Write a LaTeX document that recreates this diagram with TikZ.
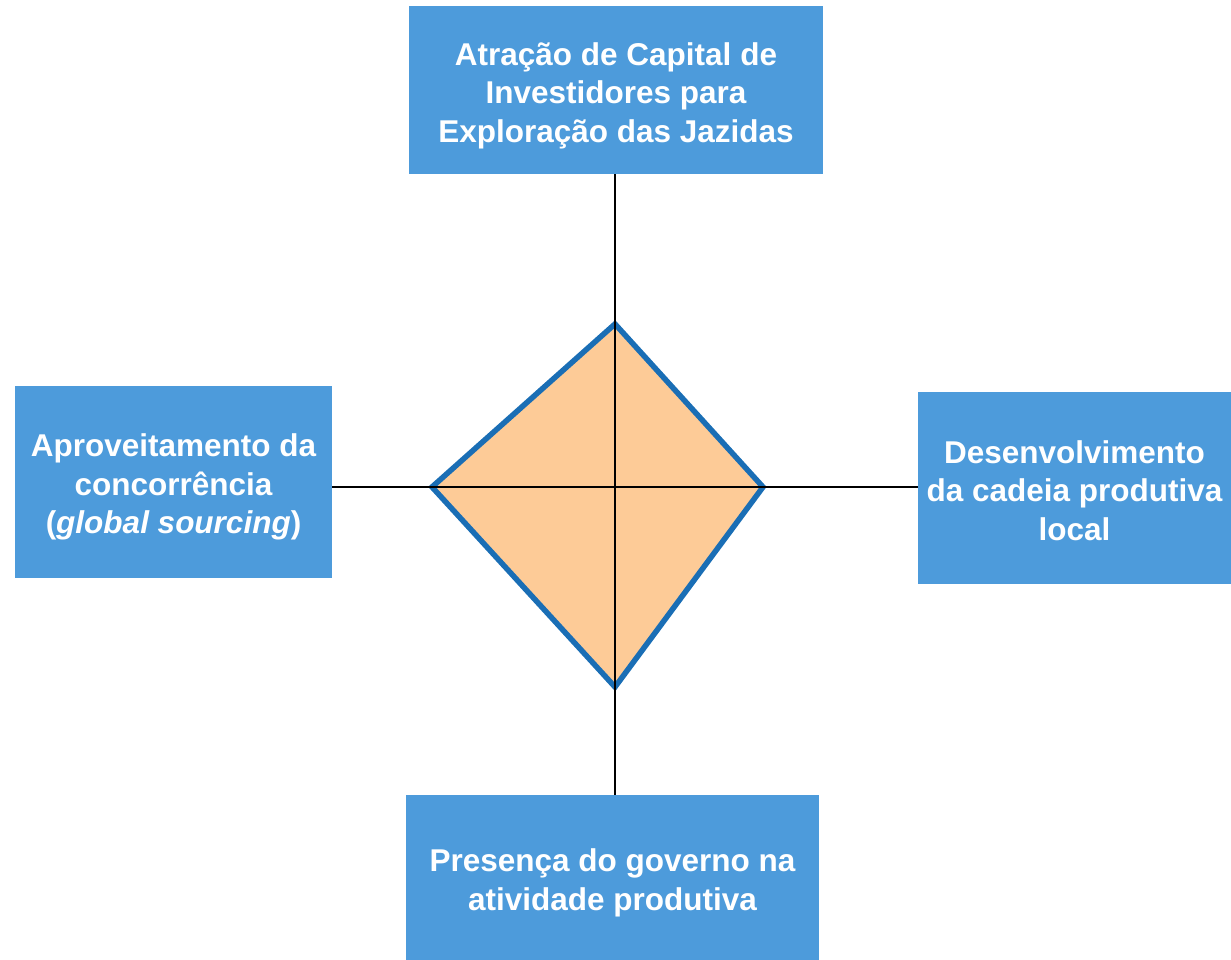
\documentclass[tikz,border=0pt]{standalone}
\usepackage{fontspec}
\setmainfont{Liberation Sans}[BoldFont={Liberation Sans Bold},BoldItalicFont={Liberation Sans Bold Italic}]
\definecolor{boxblue}{HTML}{4D9BDB}
\definecolor{dfill}{HTML}{FDCB97}
\definecolor{dline}{HTML}{1A6EB5}
\begin{document}
\begin{tikzpicture}[x=1pt,y=-1pt,
  box/.style={rectangle, fill=boxblue, draw=none, inner sep=0pt},
  label text/.style={text=white, inner sep=0pt, align=center,
    font=\bfseries\fontsize{31.5}{38.5}\selectfont},
  axis/.style={draw=black, line width=1.8pt},
  kite/.style={draw=dline, fill=dfill, line width=5.5pt, line join=miter}]
\useasboundingbox (0,0) rectangle (1231,960);
\node[box, minimum width=414, minimum height=168] (top) at (616,90) {};
\node[box, minimum width=317, minimum height=192] (left) at (173.5,482) {};
\node[box, minimum width=313, minimum height=192] (right) at (1074.5,488) {};
\node[box, minimum width=413, minimum height=165] (bottom) at (612.5,877.5) {};
\node[label text] (toptext) at ([yshift=-5.5pt]top.center)
  {Atração de Capital de\\Investidores para\\Exploração das Jazidas};
\node[label text] (lefttext) at ([yshift=-5pt]left.center)
  {Aproveitamento da\\concorrência\\(\textit{global sourcing})};
\node[label text] (righttext) at ([yshift=-2.5pt]right.center)
  {Desenvolvimento\\da cadeia produtiva\\local};
\node[label text] (bottomtext) at ([yshift=-5.5pt]bottom.center)
  {Presença do governo na\\atividade produtiva};
\coordinate (dt) at (615,324);
\coordinate (dr) at (763,487);
\coordinate (db) at (615,687);
\coordinate (dl) at (432,487);
\path[kite] (dt) -- (dr) -- (db) -- (dl) -- cycle;
\draw[axis] (top.south -| dt) -- (bottom.north -| dt);
\draw[axis] (left.east |- dl) -- (right.west |- dl);
\end{tikzpicture}
\end{document}
